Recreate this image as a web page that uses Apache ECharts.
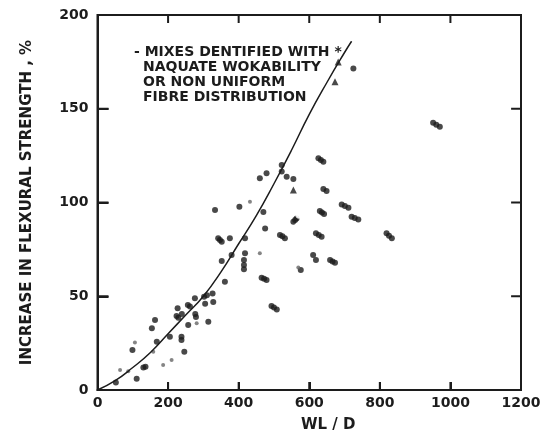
<!DOCTYPE html>
<html>
<head>
<meta charset="utf-8">
<script src="https://cdn.jsdelivr.net/npm/echarts@6/dist/echarts.min.js"></script>
<style>
  html, body { margin: 0; padding: 0; background: #fff; }
  #main { width: 543px; height: 435px; }
</style>
</head>
<body>
<div id="main"></div>
<script>
// axis ticks
var xTicks = { min: 0, max: 1200, step: 200 };
var yTicks = { min: 0, max: 200, step: 50 };
var xTickVals = [200, 400, 600, 800, 1000];
var yTickVals = [50, 100, 150];

// fitted curve
var curvePts = [
  [0, 0], [50, 5], [100, 12], [150, 20], [200, 30], [250, 40], [300, 50],
  [350, 63], [400, 78], [450, 93], [500, 110], [550, 128], [600, 147],
  [650, 164], [700, 180], [720, 186]
];

// filled test points (WL/D, increase %)
var dots = [
  [52, 4], [111, 6], [130, 12], [136, 12.4], [99, 21.3], [168, 25.8],
  [154, 32.9], [163, 37.3], [205, 28.4], [238, 28.4], [238, 26.7], [246, 20.4],
  [224, 39.5], [229, 38.5], [239, 40.5], [227, 43.6], [256, 45.3], [262, 44.5],
  [277, 40.5], [279, 39], [257, 34.7], [276, 48.9], [302, 49.8], [310, 50.5],
  [305, 46], [314, 36.4], [328, 47], [326, 51.5],
  [333, 96], [402, 97.8], [470, 95], [475, 86.2], [342, 80.9], [347, 80],
  [352, 79.1], [375, 80.9], [418, 80.9], [352, 68.8], [380, 72], [418, 72.9],
  [415, 69.3], [415, 66.7], [415, 64.4], [361, 57.8], [465, 59.9], [472, 59.3],
  [479, 58.7], [493, 44.8], [500, 44], [508, 43], [460, 112.9], [479, 115.6],
  [522, 120], [522, 116.5], [536, 113.8], [555, 112.5], [517, 82.7], [524, 82],
  [531, 80.9], [564, 91.5], [555, 89.8], [560, 90.7], [626, 123.6], [633, 122.7],
  [640, 121.8], [640, 107.2], [649, 106.1], [630, 95.5], [636, 94.7], [642, 93.9],
  [692, 99], [701, 98.1], [711, 97.2], [720, 92.4], [729, 91.7], [739, 91],
  [619, 83.6], [627, 82.7], [635, 81.8], [611, 72], [619, 69.3], [576, 64],
  [659, 69.3], [666, 68.6], [673, 67.9], [819, 83.6], [826, 82.3], [834, 80.9],
  [951, 142.6], [960, 141.5], [970, 140.4], [725, 171.5]
];

// faint small marks
var faint = [
  [64, 10.7], [87, 10], [106, 25.4], [158, 20.4], [186, 13.3], [210, 16],
  [281, 35.6], [432, 100.4], [460, 72.9], [569, 65.4]
];

var triangles = [[555, 106.7], [673, 164.4], [682, 175]];
var openCircles = [[605, 105.8], [605, 97.2], [569, 87.1], [572, 93.5]];

var noteLines = [
  '- MIXES DENTIFIED WITH *',
  'NAQUATE WOKABILITY',
  'OR NON UNIFORM',
  'FIBRE DISTRIBUTION'
];

var ink = '#1c1c1c';
var font = 'DejaVu Sans';

var chart = echarts.init(document.getElementById('main'));

var labelStyle = {
  show: true, color: ink, fontFamily: font, fontWeight: 'bold', fontSize: 14,
  formatter: function (v) { return String(v); }
};

var notes = noteLines.map(function (txt, i) {
  return {
    type: 'text',
    x: i === 0 ? 134 : 143,
    y: 45 + i * 15,
    style: { text: txt, fill: ink, font: 'bold 14px "' + font + '"' }
  };
});

// inward tick marks on all four frame edges, drawn as broken line segments
// (tick length: ~8px on x edges, ~11px on y edges of a 423x375 plot)
var xLen = 11 * (xTicks.max - xTicks.min) / 423.5;
var yLen = 8 * (yTicks.max - yTicks.min) / 375;
var tickSegs = [];
xTickVals.forEach(function (v) {
  tickSegs.push([v, yTicks.min], [v, yTicks.min + yLen], '-');
  tickSegs.push([v, yTicks.max], [v, yTicks.max - yLen], '-');
});
yTickVals.forEach(function (v) {
  tickSegs.push([xTicks.min, v], [xTicks.min + xLen, v], '-');
  tickSegs.push([xTicks.max, v], [xTicks.max - xLen * 0.9, v], '-');
});

var option = {
  backgroundColor: '#ffffff',
  animation: false,
  grid: {
    left: 97.5, right: 22, top: 15, bottom: 45,
    show: true, borderColor: ink, borderWidth: 2,
    containLabel: false, outerBoundsMode: 'none'
  },
  xAxis: {
    type: 'value',
    min: xTicks.min, max: xTicks.max, interval: xTicks.step,
    name: 'WL / D',
    nameLocation: 'middle',
    nameGap: 28,
    nameTextStyle: { color: ink, fontFamily: font, fontWeight: 'bold', fontSize: 15, padding: [0, 0, 0, 38] },
    axisLine: { show: true, lineStyle: { color: ink, width: 2 } },
    axisTick: { show: true, inside: true, length: 8, lineStyle: { color: ink, width: 2 } },
    axisLabel: Object.assign({ margin: 6 }, labelStyle),
    splitLine: { show: false }
  },
  yAxis: {
    type: 'value',
    min: yTicks.min, max: yTicks.max, interval: yTicks.step,
    name: 'INCREASE IN FLEXURAL STRENGTH , %',
    nameLocation: 'middle',
    nameGap: 63,
    nameTextStyle: { color: ink, fontFamily: font, fontWeight: 'bold', fontSize: 15 },
    axisLine: { show: true, lineStyle: { color: ink, width: 2 } },
    axisTick: { show: true, inside: true, length: 11, lineStyle: { color: ink, width: 2 } },
    axisLabel: Object.assign({ margin: 9 }, labelStyle),
    splitLine: { show: false }
  },
  graphic: notes,
  series: [
    {
      name: 'curve',
      type: 'line',
      data: curvePts,
      smooth: true,
      showSymbol: false,
      lineStyle: { color: ink, width: 1.5 },
      z: 3
    },
    {
      name: 'frameTicks',
      type: 'line',
      data: tickSegs,
      showSymbol: false,
      connectNulls: false,
      silent: true,
      lineStyle: { color: ink, width: 2 },
      z: 4
    },
    {
      name: 'mixes',
      type: 'scatter',
      data: dots,
      symbol: 'circle',
      symbolSize: 6,
      itemStyle: { color: ink }
    },
    {
      name: 'faint',
      type: 'scatter',
      data: faint,
      symbol: 'circle',
      symbolSize: 4,
      itemStyle: { color: '#666' }
    },
    {
      name: 'triangles',
      type: 'scatter',
      data: triangles,
      symbol: 'triangle',
      symbolSize: 7,
      itemStyle: { color: ink }
    },
    {
      name: 'open',
      type: 'scatter',
      data: openCircles,
      symbol: 'emptyCircle',
      symbolSize: 6,
      itemStyle: { color: '#fff', borderColor: '#444', borderWidth: 1.5 }
    }
  ]
};

chart.setOption(option);
</script>
</body>
</html>
